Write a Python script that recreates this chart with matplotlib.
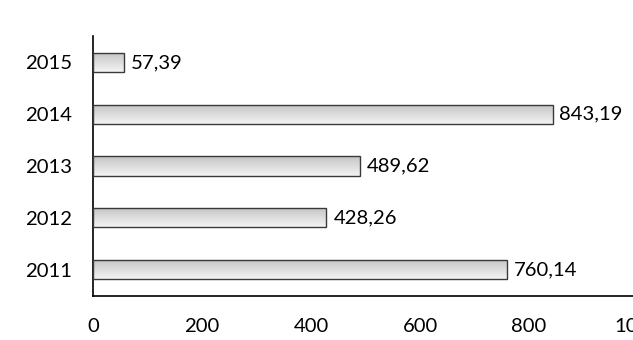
import numpy as np
import matplotlib
matplotlib.use("Agg")
import matplotlib.pyplot as plt

years = ["2011", "2012", "2013", "2014", "2015"]
values = [760.14, 428.26, 489.62, 843.19, 57.39]
labels = ["760,14", "428,26", "489,62", "843,19", "57,39"]
xticks = [0, 200, 400, 600, 800, 1000]

plt.rcParams["font.family"] = ["Lato", "DejaVu Sans"]

W, H = 633, 340
fig = plt.figure(figsize=(W / 100, H / 100), dpi=100)
# axes runs past the right edge of the figure, like the cropped original
ax = fig.add_axes([93 / W, 44 / H, 545 / W, 260 / H])

ypos = np.arange(len(years))
bars = ax.barh(ypos, values, height=0.37, facecolor="none",
               edgecolor="#3a3a3a", linewidth=1.0, zorder=3)

# vertical grey gradient inside each bar
grad = np.linspace(0, 1, 64).reshape(-1, 1)
cmap = matplotlib.colors.LinearSegmentedColormap.from_list(
    "g", ["#f4f4f4", "#c4c4c4"])
for b in bars:
    x0, y0 = b.get_x(), b.get_y()
    w, h = b.get_width(), b.get_height()
    im = ax.imshow(grad, extent=[x0, x0 + w, y0 + h, y0], origin="upper",
                   cmap=cmap, aspect="auto", zorder=2)
    im.set_clip_path(b)

for b, lab in zip(bars, labels):
    ax.annotate(lab, (b.get_width(), b.get_y() + b.get_height() / 2),
                xytext=(5, 0), textcoords="offset points",
                ha="left", va="center", fontsize=14.6, color="black")

ax.set_xlim(0, 1000)
ax.set_ylim(-0.51, 4.51)
ax.set_yticks(ypos)
ax.set_yticklabels(years)
ax.set_xticks(xticks)
ax.set_xticklabels([str(t) for t in xticks])
ax.tick_params(axis="both", length=0, labelsize=14.6, colors="black")
ax.tick_params(axis="x", pad=16)
ax.tick_params(axis="y", pad=15)
for s in ["top", "right"]:
    ax.spines[s].set_visible(False)
for s in ["left", "bottom"]:
    ax.spines[s].set_linewidth(1.2)
    ax.spines[s].set_color("black")

fig.savefig("out.png", dpi=100)
